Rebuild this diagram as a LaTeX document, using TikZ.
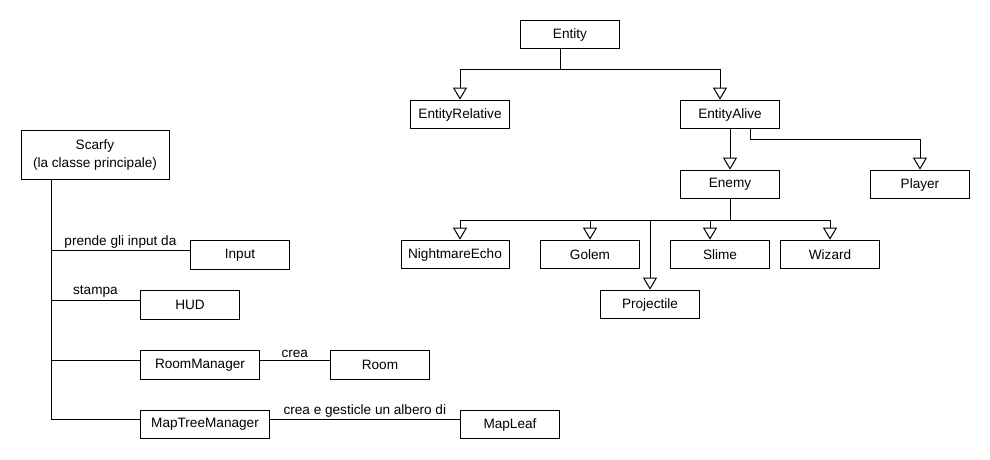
\documentclass[tikz,border=0pt]{standalone}
\usepackage{fontspec}
\setsansfont{Liberation Sans}
\usetikzlibrary{arrows.meta}
\tikzset{
	classnode/.style = {align=center, inner sep=0pt, text centered,
		font=\sffamily\fontsize{10.2}{13}\selectfont},
	cls_b/.style = {classnode, rectangle, draw=black, fill=white,
		minimum width=74.5pt, minimum height=21.5pt},% classe, riquadro
	cls_l/.style = {classnode, above, inner sep=1.5pt}% etichetta sopra il collegamento
}

\begin{document}
\begin{tikzpicture}[x=0.75pt, y=-0.75pt, line width=0.75pt,
		>={Triangle[open, length=9pt, width=10.5pt]}]
	\useasboundingbox (0,0) rectangle (990,460);
	% gerarchia delle entita
	\node [cls_b] (ent) at (570,34.5) {Entity};
	\node [cls_b] (erel) at (460,114.5) {EntityRelative};
	\node [cls_b] (ealive) at (730,114.5) {EntityAlive};
	\node [cls_b] (enemy) at (730,184.5) {Enemy};
	\node [cls_b] (player) at (920,184.5) {Player};
	\node [cls_b, minimum width=81pt] (necho) at (455,254.5) {NightmareEcho};
	\node [cls_b] (golem) at (590,254.5) {Golem};
	\node [cls_b] (slime) at (720,254.5) {Slime};
	\node [cls_b] (wizard) at (830,254.5) {Wizard};
	\node [cls_b] (proj) at (650,304.5) {Projectile};
	\coordinate (ent_split) at (560,70);
	\coordinate (alive_split) at (750,140);
	\coordinate (enemy_split) at (730,220);
	\draw (ent.south -| ent_split) -- (ent_split);
	\draw [->] (ent_split) -| (erel.north);
	\draw [->] (ent_split) -| ([xshift=-7.5pt]ealive.north);
	\draw [->] (ealive) -- (enemy);
	\draw [->] (ealive.south -| alive_split) -- (alive_split) -| (player.north);
	\draw (enemy) -- (enemy_split);
	\draw [->] (enemy_split) -| ([xshift=3.75pt]necho.north);
	\draw [->] (enemy_split) -| (golem.north);
	\draw [->] (enemy_split) -| (proj.north);
	\draw [->] (enemy_split) -| ([xshift=-7.5pt]slime.north);
	\draw [->] (enemy_split) -| (wizard.north);
	% classe principale
	\node [cls_b, minimum width=111pt, minimum height=36pt] (scarfy) at (95,155)
		{Scarfy\\(la classe principale)};
	\node [cls_b] (inp) at (240,255) {Input};
	\node [cls_b] (hud) at (190,305) {HUD};
	\node [cls_b, minimum width=89pt] (rmgr) at (200,365) {RoomManager};
	\node [cls_b] (room) at (380,365) {Room};
	\node [cls_b, minimum width=96.5pt] (mtmgr) at (205,424.5) {MapTreeManager};
	\node [cls_b] (mleaf) at (510,424.5) {MapLeaf};
	\coordinate (trunk) at ([xshift=-33pt]scarfy.south);
	\draw (trunk) |- node[cls_l, pos=0.75] {prende gli input da} ([yshift=3.2pt]inp.west);
	\draw (trunk) |- node[cls_l, pos=0.75] {stampa} ([yshift=3.6pt]hud.west);
	\draw (trunk) |- ([yshift=3.6pt]rmgr.west);
	\draw (trunk) |- ([yshift=3.4pt]mtmgr.west);
	\draw ([yshift=3.6pt]rmgr.east) -- node[cls_l] {crea} ([yshift=3.6pt]room.west);
	\draw ([yshift=3.4pt]mtmgr.east) -- node[cls_l] {crea e gesticle un albero di} ([yshift=3.4pt]mleaf.west);
\end{tikzpicture}
\end{document}
